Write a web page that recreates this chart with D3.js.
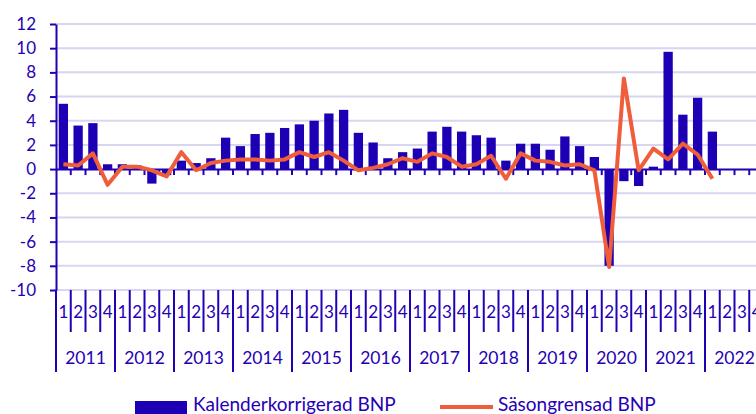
<!DOCTYPE html>
<html>
<head>
<meta charset="utf-8">
<script src="https://cdn.jsdelivr.net/npm/d3@7"></script>
<style>
  body { margin: 0; background: #fff; overflow: hidden; }
  text { font-family: Lato, "Open Sans", sans-serif; fill: #2600b4; }
</style>
</head>
<body>
<div id="chart"></div>
<script>
// Data
var years = ["2011", "2012", "2013", "2014", "2015", "2016", "2017", "2018", "2019", "2020", "2021", "2022"];
var quarters = ["1", "2", "3", "4"];
var yTicks = [-10, -8, -6, -4, -2, 0, 2, 4, 6, 8, 10, 12];
var kalenderBNP = [5.4, 3.6, 3.8, 0.4, 0.4, 0.3, -1.2, -0.5, 0.7, 0.5, 0.9, 2.6,
                   1.9, 2.9, 3.0, 3.4, 3.7, 4.0, 4.6, 4.9, 3.0, 2.2, 0.9, 1.4,
                   1.7, 3.1, 3.5, 3.1, 2.8, 2.6, 0.7, 2.1, 2.1, 1.6, 2.7, 1.9,
                   1.0, -8.0, -1.0, -1.4, 0.2, 9.7, 4.5, 5.9, 3.1];
var sasongBNP = [0.4, 0.3, 1.3, -1.3, 0.2, 0.2, -0.1, -0.6, 1.4, -0.1, 0.5, 0.7,
                 0.8, 0.8, 0.7, 0.8, 1.4, 1.0, 1.4, 0.7, -0.1, 0.1, 0.4, 0.9,
                 0.6, 1.3, 1.0, 0.2, 0.4, 1.1, -0.8, 1.3, 0.7, 0.6, 0.3, 0.4,
                 -0.1, -8.1, 7.5, -0.1, 1.7, 0.8, 2.1, 1.2, -0.8];
var seriesNames = ["Kalenderkorrigerad BNP", "Säsongrensad BNP"];

var dark = "#2200b4", barColor = "#1e00b4", lineColor = "#f05d3b", gridColor = "#d6d6f0";

// all quarters on the axis
var cats = [];
years.forEach(function(y) { quarters.forEach(function(q) { cats.push(y + "Q" + q); }); });

var margin = {top: 24, left: 56},
    width = 708,
    height = 266;

var svg = d3.select("#chart").append("svg")
    .attr("width", 756)
    .attr("height", 414);

var g = svg.append("g")
    .attr("transform", "translate(" + margin.left + "," + margin.top + ")");

var x = d3.scaleBand()
    .domain(cats)
    .range([0, width])
    .paddingInner(0.37)
    .paddingOuter(0.185);
var y = d3.scaleLinear()
    .domain([-10, 12])
    .range([height, 0]);

var step = x.step();

// gridlines
g.selectAll(".grid")
    .data(yTicks.filter(function(d) { return d !== 0; }))
  .enter().append("line")
    .attr("x1", 0).attr("x2", 720)
    .attr("y1", function(d) { return y(d); })
    .attr("y2", function(d) { return y(d); })
    .attr("stroke", gridColor)
    .attr("stroke-width", 2);

// bars
g.selectAll(".bar")
    .data(kalenderBNP)
  .enter().append("rect")
    .attr("x", function(d, i) { return x(cats[i]); })
    .attr("width", x.bandwidth())
    .attr("y", function(d) { return y(Math.max(0, d)); })
    .attr("height", function(d) { return Math.abs(y(d) - y(0)); })
    .attr("fill", barColor);

// zero axis with quarter ticks
var zeroAxis = d3.axisBottom(x).tickFormat("").tickSizeOuter(0).tickSizeInner(6);
g.append("g")
    .attr("transform", "translate(0," + y(0) + ")")
    .call(zeroAxis)
    .call(function(s) {
      s.select(".domain").attr("stroke", dark).attr("stroke-width", 2);
      s.selectAll(".tick line").attr("stroke", dark).attr("stroke-width", 2)
        .attr("transform", "translate(" + step / 2 + ",0)");
    });

// y axis (plain hyphen for negatives, as in the original)
g.append("g")
    .call(d3.axisLeft(y).tickValues(yTicks).tickSize(6).tickSizeOuter(0).tickPadding(14)
      .tickFormat(function(d) { return String(d); }))
    .call(function(s) {
      s.select(".domain").attr("stroke", dark).attr("stroke-width", 2);
      s.selectAll(".tick line").attr("stroke", dark).attr("stroke-width", 2);
      s.selectAll(".tick text").style("font-size", "17px").attr("fill", dark)
        .style("font-family", "Lato");
    });

// line
var line = d3.line()
    .x(function(d, i) { return x(cats[i]) + x.bandwidth() / 2; })
    .y(function(d) { return y(d); });
g.append("path")
    .datum(sasongBNP)
    .attr("d", line)
    .attr("fill", "none")
    .attr("stroke", lineColor)
    .attr("stroke-width", 4)
    .attr("stroke-linejoin", "round");

// category axis below the plot: quarters and years
var bottom = g.append("g").attr("transform", "translate(0," + height + ")");
bottom.selectAll(".qline")
    .data(cats)
  .enter().append("line")
    .attr("x1", function(d) { return x(d) - x.paddingInner() * step / 2; })
    .attr("x2", function(d) { return x(d) - x.paddingInner() * step / 2; })
    .attr("y1", 0)
    .attr("y2", function(d, i) { return i % 4 === 0 ? 82 : 42; })
    .attr("stroke", dark)
    .attr("stroke-width", 2);
bottom.selectAll(".qlabel")
    .data(cats)
  .enter().append("text")
    .attr("x", function(d) { return x(d) + x.bandwidth() / 2; })
    .attr("y", 28)
    .attr("text-anchor", "middle")
    .style("font-size", "17px")
    .text(function(d) { return d.slice(5); });
bottom.selectAll(".ylabel")
    .data(years)
  .enter().append("text")
    .attr("x", function(d) { return x(d + "Q1") - x.paddingInner() * step / 2 + 2 * step; })
    .attr("y", 74)
    .attr("text-anchor", "middle")
    .style("font-size", "17.5px")
    .text(function(d) { return d; });

// legend
var legend = svg.append("g");
legend.append("rect")
    .attr("x", 135).attr("y", 401).attr("width", 52).attr("height", 14)
    .attr("fill", barColor);
legend.append("text")
    .attr("x", 193).attr("y", 411)
    .style("font-size", "19px")
    .text(seriesNames[0]);
legend.append("line")
    .attr("x1", 440).attr("x2", 493).attr("y1", 407).attr("y2", 407)
    .attr("stroke", lineColor).attr("stroke-width", 4);
legend.append("text")
    .attr("x", 498).attr("y", 411)
    .style("font-size", "19px")
    .text(seriesNames[1]);
</script>
</body>
</html>
